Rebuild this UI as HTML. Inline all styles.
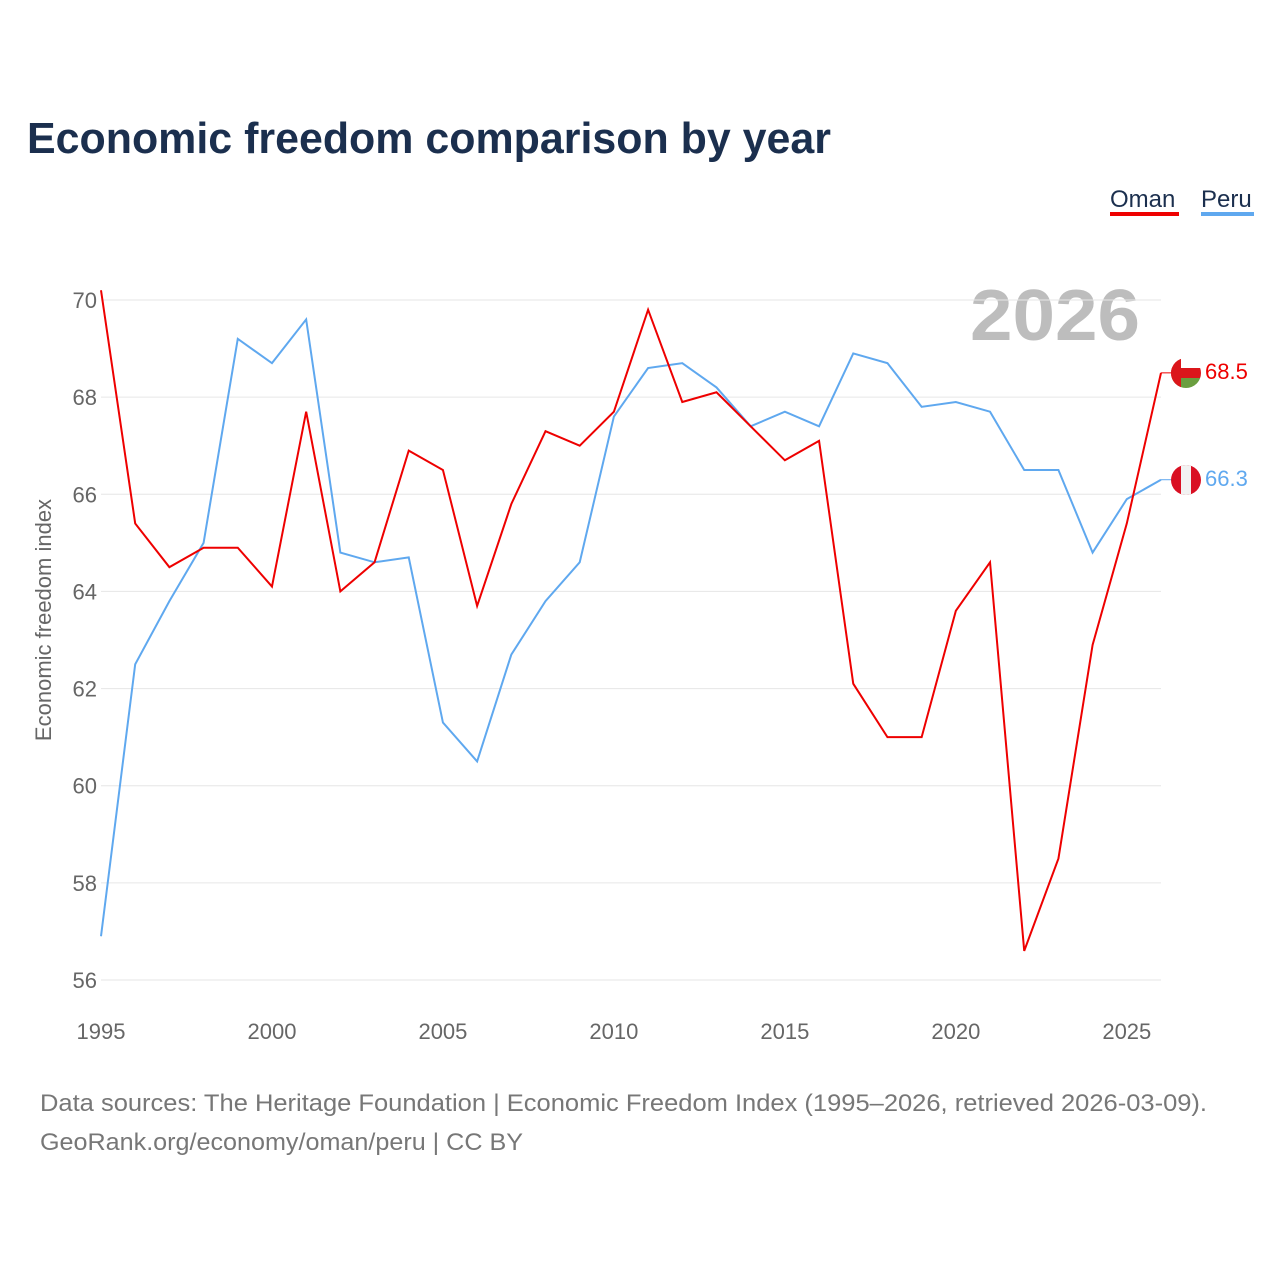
<!DOCTYPE html>
<html><head><meta charset="utf-8"><style>
body{margin:0;background:#fff;font-family:"Liberation Sans",sans-serif}
</style></head><body>
<svg width="1280" height="1280" viewBox="0 0 1280 1280">
<text x="27" y="153" font-size="44" font-weight="bold" fill="#1b2f4e" textLength="804" lengthAdjust="spacingAndGlyphs">Economic freedom comparison by year</text>
<g>
<text x="1110" y="207" font-size="24" fill="#1b2f4e">Oman</text>
<rect x="1110" y="212" width="69" height="4" fill="#ee0000"/>
<text x="1201" y="207" font-size="24" fill="#1b2f4e">Peru</text>
<rect x="1201" y="212" width="53" height="4" fill="#5fa8ef"/>
</g>
<text x="970" y="340" font-size="72" font-weight="bold" fill="#bdbdbd" textLength="170" lengthAdjust="spacingAndGlyphs">2026</text>
<g id="grid"></g>
<g id="xt"></g>
<text transform="translate(51,620) rotate(-90)" font-size="22" fill="#666" text-anchor="middle">Economic freedom index</text>
<g id="lines"></g>
<g>
<clipPath id="c1"><circle cx="1186" cy="373" r="15"/></clipPath>
<g clip-path="url(#c1)"><rect x="1171" y="358" width="30" height="30" fill="#fff"/><rect x="1171" y="378" width="30" height="10" fill="#6a9e3f"/><rect x="1171" y="368" width="30" height="10" fill="#db161b"/><rect x="1171" y="358" width="10" height="30" fill="#db161b"/></g>
</g>
<g>
<clipPath id="c2"><circle cx="1186" cy="480" r="15"/></clipPath>
<g clip-path="url(#c2)"><rect x="1171" y="465" width="30" height="30" fill="#d91023"/><rect x="1181" y="465" width="10" height="30" fill="#f2f2f2"/></g>
</g>
<text x="1205" y="379" font-size="22" fill="#ee0000">68.5</text>
<text x="1205" y="486" font-size="22" fill="#5fa8ef">66.3</text>
<text x="40" y="1111" font-size="24" fill="#777" textLength="1167" lengthAdjust="spacingAndGlyphs">Data sources: The Heritage Foundation | Economic Freedom Index (1995–2026, retrieved 2026-03-09).</text>
<text x="40" y="1150" font-size="24" fill="#777" textLength="483" lengthAdjust="spacingAndGlyphs">GeoRank.org/economy/oman/peru | CC BY</text>
</svg>
<script>
const years=[1995,1996,1997,1998,1999,2000,2001,2002,2003,2004,2005,2006,2007,2008,2009,2010,2011,2012,2013,2014,2015,2016,2017,2018,2019,2020,2021,2022,2023,2024,2025,2026];
const oman=[70.2,65.4,64.5,64.9,64.9,64.1,67.7,64.0,64.6,66.9,66.5,63.7,65.8,67.3,67.0,67.7,69.8,67.9,68.1,67.4,66.7,67.1,62.1,61.0,61.0,63.6,64.6,56.6,58.5,62.9,65.4,68.5];
const peru=[56.9,62.5,63.8,65.0,69.2,68.7,69.6,64.8,64.6,64.7,61.3,60.5,62.7,63.8,64.6,67.6,68.6,68.7,68.2,67.4,67.7,67.4,68.9,68.7,67.8,67.9,67.7,66.5,66.5,64.8,65.9,66.3];
const yTicks=[56,58,60,62,64,66,68,70];
const xTicks=[1995,2000,2005,2010,2015,2020,2025];
const NS="http://www.w3.org/2000/svg";
const X=y=>101+(y-1995)*(1161-101)/31;
const Y=v=>980-(v-56)*(680/14);
function mk(t,a,p){const e=document.createElementNS(NS,t);for(const k in a)e.setAttribute(k,a[k]);p.appendChild(e);return e;}
const g=document.getElementById('grid');
yTicks.forEach(v=>{
 const l=mk('line',{x1:101,x2:1161,y1:Y(v),y2:Y(v),stroke:'#e6e6e6','stroke-width':1},g);
 
 
 const t=mk('text',{x:97,y:Y(v)+8,'font-size':22,fill:'#666','text-anchor':'end'},g);t.textContent=v;
 
 
});
const xt=document.getElementById('xt');
xTicks.forEach(v=>{
 const t=mk('text',{x:X(v),y:1039,'font-size':22,fill:'#666','text-anchor':'middle'},xt);t.textContent=v;
 
 
});
const L=document.getElementById('lines');
[[peru,'#5fa8ef','peru-line'],[oman,'#ee0000','oman-line']].forEach(([d,c,n])=>{
 const p=mk('polyline',{points:d.map((v,i)=>X(years[i])+','+Y(v)).join(' '),fill:'none',stroke:c,'stroke-width':2},L);
 
 
 const last=d[d.length-1];
 mk('line',{x1:X(2026),x2:1172,y1:Y(last),y2:Y(last),stroke:c,'stroke-width':1},L);
});
</script>
</body></html>
